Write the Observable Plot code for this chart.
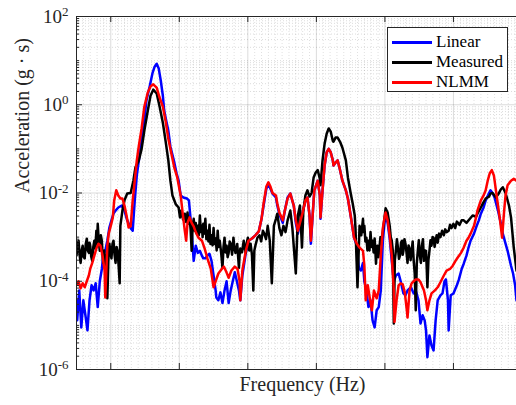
<!DOCTYPE html>
<html>
<head>
<meta charset="utf-8">
<script src="https://cdn.jsdelivr.net/npm/d3@7"></script>
<script src="https://cdn.jsdelivr.net/npm/@observablehq/plot@0.6"></script>
<style>
  html, body { margin: 0; padding: 0; background: #fff; }
  #wrap { position: relative; width: 516px; height: 405px; overflow: hidden; }
  #legend { position: absolute; left: 387px; top: 27px; width: 121px; height: 65px; box-sizing: border-box;
    border: 1px solid #262626; background: #fff; color: #000; }
  .row { position: absolute; left: 0; width: 100%; height: 20px; }
  .sw { position: absolute; left: 4px; width: 40px; height: 2.5px; top: 9px; }
  .lb { position: absolute; left: 48px; top: 0; line-height: 20px; white-space: nowrap; }
</style>
</head>
<body>
<div id="wrap"></div>
<script>
// ---- data (frequency in Hz, acceleration in g·s) ----
const seriesNames = ["Linear", "Measured", "NLMM"];
const seriesColors = ["#0000ff", "#000000", "#ff0000"];

const linear = [[50,3.7e-5],[51,1.3e-5],[54,6.2e-5],[57,9.0e-6],[60,3.7e-5],[63,1.7e-5],[66,7.7e-6],[69,3.7e-5],[72,8.1e-5],[75,6.2e-5],[78,9.0e-5],[81,2.6e-5],[84,1.0e-4],[87,1.9e-4],[89,3.8e-4],[92,4.9e-4],[95,8.3e-4],[98,1.65e-3],[101,2.4e-3],[104,3.4e-3],[107,4.0e-3],[111,4.7e-3],[116,5.2e-3],[120,4.0e-3],[124,2.4e-3],[129,1.6e-3],[132,1.4e-3],[135,6.8e-3],[138,2.5e-2],[141,5.5e-2],[143,9.2e-2],[148,0.33],[152,1.24],[157,2.7],[161,5.3],[164,7.3],[167,8.5],[170,6.6],[173,3.5],[176,1.6],[178,0.73],[181,0.43],[184,0.26],[187,0.112],[192,5.5e-2],[196,2.8e-2],[199,1.9e-2],[202,8.8e-3],[206,7.9e-3],[211,7.5e-3],[214,6.8e-3],[216,3.1e-3],[219,8.3e-4],[221,2.9e-4],[224,6.4e-4],[227,4.4e-4],[230,4.9e-4],[233,3.8e-4],[235,3.3e-4],[238,3.3e-4],[241,3.8e-4],[244,4.2e-4],[247,2.9e-4],[250,1.35e-4],[253,6.2e-5],[254,4.3e-5],[257,3.7e-5],[260,5.6e-5],[263,3.2e-5],[266,6.2e-5],[269,1.0e-4],[272,3.2e-5],[275,6.2e-5],[278,1.0e-4],[281,1.6e-4],[284,1.0e-4],[287,6.2e-5],[289,3.7e-5],[292,1.35e-4],[297,4.4e-4],[301,8.3e-4],[306,9.3e-4],[311,1.1e-3],[316,1.35e-3],[320,2.6e-3],[323,5.2e-3],[327,1.25e-2],[330,1.6e-2],[333,1.25e-2],[336,9.7e-3],[341,7.9e-3],[343,5.2e-3],[346,3.3e-3],[351,2.1e-3],[354,4.0e-3],[358,7.9e-3],[362,9.7e-3],[367,5.2e-3],[370,2.1e-3],[373,1.2e-3],[377,2.4e-3],[380,3.6e-3],[384,6.8e-3],[387,7.9e-3],[390,3.1e-3],[392,7.1e-4],[395,4.0e-3],[397,1.15e-2],[402,1.9e-2],[405,8.8e-3],[406,2.6e-3],[409,1.15e-2],[412,4.2e-2],[415,8.3e-2],[418,0.1],[421,8.3e-2],[424,5.5e-2],[425,4.2e-2],[428,4.9e-2],[431,5.5e-2],[434,3.6e-2],[438,1.9e-2],[443,1.15e-2],[446,7.5e-3],[450,3.1e-3],[455,9.7e-4],[459,6.4e-4],[462,2.0e-4],[465,1.75e-4],[468,2.6e-4],[470,1.0e-4],[473,6.2e-5],[476,2.6e-5],[479,3.7e-5],[482,1.3e-5],[485,9.0e-6],[488,2.2e-5],[491,2.6e-5],[494,6.2e-5],[497,8.3e-4],[500,2.6e-3],[501,3.4e-3],[504,2.1e-3],[507,9.3e-4],[510,2.9e-4],[513,1.0e-4],[516,1.35e-4],[520,1.5e-4],[523,1.0e-4],[527,5.3e-5],[530,4.8e-5],[533,6.2e-5],[538,7.3e-5],[542,5.3e-5],[545,6.2e-5],[549,3.7e-5],[552,1.1e-5],[555,1.7e-5],[558,1.3e-5],[560,7.7e-6],[562,1.9e-6],[565,5.9e-6],[568,3.5e-6],[571,2.7e-6],[574,1.3e-5],[577,3.7e-5],[581,4.8e-5],[584,5.3e-5],[587,1.0e-4],[589,1.1e-4],[592,3.7e-5],[593,7.7e-6],[596,4.8e-5],[600,5.3e-5],[605,8.1e-5],[608,1.1e-4],[612,1.9e-4],[615,2.5e-4],[619,3.8e-4],[622,5.8e-4],[625,8.3e-4],[630,1.2e-3],[633,1.65e-3],[637,2.4e-3],[640,3.4e-3],[644,4.7e-3],[647,6.8e-3],[652,1.0e-2],[654,1.15e-2],[657,1.0e-2],[660,7.9e-3],[665,4.0e-3],[669,2.1e-3],[672,1.2e-3],[676,7.1e-4],[679,4.9e-4],[684,2.25e-4],[687,1.5e-4],[690,8.1e-5],[692,3.7e-5]];

const measured = [[50,3.8e-4],[51.5,6e-4],[53,8.3e-4],[54.5,4e-4],[56,2.6e-4],[57.5,5e-4],[59,6.4e-4],[60.5,3.5e-4],[62,3.3e-4],[63.5,7e-4],[65,9.2e-4],[66.5,5e-4],[68,4.4e-4],[69,7.5e-4],[70,6.4e-4],[71.5,3.6e-4],[73,2.9e-4],[74.5,6e-4],[76,8.3e-4],[77.5,5.5e-4],[79,1.4e-3],[80,7e-4],[81,2.0e-3],[82.5,8e-4],[84,4.9e-4],[85.5,1.1e-3],[87,8.3e-4],[88,4e-4],[89,2.6e-4],[90.5,5e-4],[92,1.75e-4],[93.5,4e-4],[95,4.1e-5],[96.5,3e-4],[98,7.1e-4],[99.5,4.5e-4],[101,3.3e-4],[102.5,7e-4],[104,8.3e-4],[105.5,4e-4],[107,2.6e-4],[108.5,6e-4],[110,4.9e-4],[111.5,2.2e-4],[113,9.0e-5],[114,1.8e-3],[117,4.0e-3],[120,6.8e-3],[124,9.7e-3],[129,1.0e-2],[133,1.9e-2],[136,3.8e-2],[141,5.5e-2],[145,0.1],[149,0.26],[154,0.73],[158,1.6],[162,2.2],[167,1.8],[171,0.95],[176,0.39],[180,0.15],[184,5.5e-2],[187,1.9e-2],[190,8.8e-3],[195,5.5e-3],[199,4.7e-3],[201,2.8e-3],[203,4.0e-3],[205.5,2.5e-3],[208,3.4e-3],[210,2.2e-3],[212,3.6e-3],[213.5,2e-3],[215,2.8e-3],[216.5,1.5e-3],[218,4.9e-4],[219.5,1.8e-3],[221,2.6e-3],[222.5,1.4e-3],[224,2.1e-3],[225.5,1.2e-3],[227,1.8e-3],[228.5,1.1e-3],[230,3.1e-3],[231.5,1.3e-3],[233,1.8e-3],[234,1.0e-3],[235,2.0e-3],[236.5,1.2e-3],[238,2.6e-3],[239.5,9e-4],[241,1.4e-3],[242.5,8e-4],[244,1.9e-3],[245.5,7e-4],[247,1.1e-3],[248.5,6.5e-4],[250,1.6e-3],[251.5,7e-4],[253,9.3e-4],[254.5,5e-4],[256,1.4e-3],[257.5,6e-4],[259,8.3e-4],[261,4.5e-4],[263,2.0e-4],[264.5,6e-4],[266,9.7e-4],[267.5,4.5e-4],[269,6.4e-4],[270.5,3.5e-4],[272,4.4e-4],[273.5,8e-4],[275,7.1e-4],[277,4e-4],[279,9.7e-4],[280.5,5.5e-4],[282,4.4e-4],[284.5,7e-4],[287,2.0e-4],[288,4e-4],[289,5.5e-4],[291.5,4.5e-4],[294,8.3e-4],[295.5,5.5e-4],[297,4.4e-4],[298.5,7.5e-4],[300,9.7e-4],[302,5e-4],[304,7.1e-4],[306,4e-4],[308,6.2e-5],[309.5,5e-4],[311,6.4e-4],[314,9.7e-4],[317,1.1e-3],[319.5,8e-4],[322,1.4e-3],[324,1.2e-3],[326.5,9e-4],[329,1.8e-3],[332,8.3e-4],[335,9.0e-5],[338,1.8e-3],[341,2.6e-3],[343,3.4e-3],[346,1.6e-3],[349,1.1e-3],[352,1.8e-3],[355,1.3e-3],[358,2.4e-3],[362,4.0e-3],[365,1.6e-3],[370,1.5e-4],[373,3.1e-3],[376,5.2e-3],[379,5.8e-4],[381,4.0e-3],[384,8.8e-3],[387,1.15e-2],[390,8.3e-3],[393,1.0e-2],[396,2.25e-2],[399,2.9e-2],[402,3.3e-2],[405,2.1e-2],[406,1.5e-2],[409,5.5e-2],[412,0.13],[415,0.22],[418,0.29],[421,0.245],[424,0.15],[425,0.145],[428,0.18],[431,0.18],[435,0.14],[438,0.106],[443,5.5e-2],[446,2.25e-2],[450,1.0e-2],[453,5.8e-3],[456,3.1e-3],[457,1.65e-3],[460,7.3e-5],[463,1.8e-3],[465.5,1.1e-3],[468,2.6e-3],[469,1.3e-3],[470,1.8e-3],[471.5,8e-4],[473,9.7e-4],[474.5,5e-4],[476,8.3e-4],[477.5,5e-4],[479,1.3e-3],[480.5,6e-4],[482,8.3e-4],[483.5,4.5e-4],[485,9.3e-4],[486,5e-4],[487,2.5e-4],[488,5e-4],[489,6.4e-4],[490.5,3.5e-4],[492,5.8e-4],[493.5,1.0e-3],[495,8.3e-4],[496.5,1.2e-3],[498,1.8e-3],[501,4.5e-3],[504,3.6e-3],[507,1.8e-3],[508.5,1.0e-3],[510,8.3e-4],[511.5,5e-4],[513,1.1e-5],[514.5,3e-4],[516,4.9e-4],[517.5,9e-4],[519,5.8e-4],[520.5,3.2e-4],[522,3.8e-4],[523.5,7.5e-4],[525,8.3e-4],[526,4e-4],[527,4.9e-4],[528.5,9e-4],[530,7.1e-4],[531.5,4.5e-4],[533,2.6e-4],[534.5,6.5e-4],[536,5.5e-4],[537.5,3e-4],[539,4.9e-4],[540.5,8e-4],[542,2.9e-4],[543.5,1.5e-4],[545,2.2e-5],[546.5,2.5e-4],[548,4.9e-4],[549.5,8.5e-4],[551,3.8e-4],[552.5,2.6e-4],[554,6.4e-4],[555.5,9e-4],[557,2.9e-4],[558.5,5e-4],[560,4.9e-4],[561,2e-4],[562,7.3e-5],[563.5,3e-4],[565,4.9e-4],[566.5,8.5e-4],[568,6.4e-4],[569.5,1.0e-3],[571,9.7e-4],[572.5,6e-4],[574,8.3e-4],[575.5,1.1e-3],[577,7.5e-4],[579,1.2e-3],[581,1.0e-3],[583.5,1.4e-3],[586,1.1e-3],[588,1.5e-3],[590,1.3e-3],[593,1.4e-3],[595,1.9e-3],[597,1.6e-3],[600,2.0e-3],[602.5,1.6e-3],[605,2.25e-3],[609,1.9e-3],[612,2.4e-3],[615,2.4e-3],[619,2.1e-3],[624,2.6e-3],[628,3.1e-3],[633,2.9e-3],[635,3.4e-3],[640,4.7e-3],[643,5.8e-3],[647,7.5e-3],[652,8.3e-3],[654,9.7e-3],[657,1.0e-2],[662,7.9e-3],[666,9.7e-3],[669,1.2e-2],[672,1.35e-2],[676,1.0e-2],[681,5.2e-3],[684,2.8e-3],[688,5.8e-4],[692,1.75e-4]];

const nlmm = [[50,8.1e-5],[53,1.0e-4],[56,6.9e-5],[59,9.0e-5],[62,7.3e-5],[65,1.0e-4],[68,1.35e-4],[70,1.9e-4],[73,2.6e-4],[76,3.8e-4],[79,5.5e-4],[82,7.1e-4],[85,6.4e-4],[88,3.8e-4],[91,1.75e-4],[92,4.3e-5],[95,6.4e-4],[97,1.2e-3],[100,1.8e-3],[103,2.8e-3],[105,6.8e-3],[108,1.15e-2],[111,8.8e-3],[114,7.5e-3],[117,7.5e-3],[120,5.2e-3],[123,3.1e-3],[126,1.65e-3],[129,1.75e-3],[132,6.8e-3],[135,1.9e-2],[138,5.5e-2],[141,0.118],[145,0.29],[149,0.9],[154,1.9],[158,2.6],[162,2.9],[167,2.45],[171,1.5],[176,0.9],[180,0.43],[184,0.17],[189,7.1e-2],[193,3.6e-2],[197,2.25e-2],[202,8.8e-3],[205,3.4e-3],[208,1.4e-3],[210,8.3e-4],[212,2.1e-3],[215,2.8e-3],[218,2.1e-3],[221,1.75e-3],[224,1.3e-3],[228,9.7e-4],[233,8.3e-4],[237,5.5e-4],[241,3.3e-4],[246,1.9e-4],[250,7.3e-5],[253,1.0e-4],[257,1.5e-4],[262,1.9e-4],[265,2.15e-4],[269,1.57e-4],[272,1.2e-4],[276,1.75e-4],[281,2.15e-4],[285,1.9e-4],[288,1.0e-4],[289,3.7e-5],[292,1.75e-4],[297,4.9e-4],[301,8.3e-4],[306,9.3e-4],[311,1.1e-3],[316,1.35e-3],[320,2.6e-3],[323,5.8e-3],[327,1.4e-2],[330,1.75e-2],[333,1.4e-2],[336,1.0e-2],[341,8.8e-3],[343,5.8e-3],[346,3.6e-3],[351,2.4e-3],[354,4.0e-3],[358,7.5e-3],[362,9.7e-3],[367,5.2e-3],[370,2.4e-3],[373,1.4e-3],[377,2.4e-3],[380,3.6e-3],[384,6.8e-3],[387,7.9e-3],[390,3.1e-3],[392,8.3e-4],[395,4.0e-3],[397,1.15e-2],[402,1.9e-2],[405,8.8e-3],[406,2.8e-3],[409,1.15e-2],[412,4.2e-2],[415,8.3e-2],[418,0.1],[421,8.3e-2],[424,5.5e-2],[425,4.2e-2],[428,4.9e-2],[431,5.5e-2],[434,3.6e-2],[438,1.9e-2],[443,1.15e-2],[446,7.5e-3],[450,3.1e-3],[455,9.7e-4],[459,7.1e-4],[463,5.8e-4],[468,4.9e-4],[470,2.25e-4],[472,3.7e-5],[475,8.1e-5],[478,4.1e-5],[481,2.2e-5],[484,6.2e-5],[488,4.1e-5],[491,6.2e-5],[494,3.8e-4],[497,1.6e-3],[500,3.1e-3],[501,3.6e-3],[504,2.4e-3],[507,1.1e-3],[510,3.8e-4],[513,6.2e-5],[514,1.2e-5],[517,3.7e-5],[520,8.1e-5],[523,9.0e-5],[526,8.5e-5],[529,5.6e-5],[532,2.2e-5],[533,1.5e-5],[536,6.2e-5],[539,9.0e-5],[542,1.0e-4],[545,1.1e-4],[549,1.1e-4],[552,9.5e-5],[557,6.2e-5],[560,3.7e-5],[562,2.2e-5],[565,3.7e-5],[568,5.3e-5],[573,6.2e-5],[577,7.3e-5],[581,9.5e-5],[586,1.35e-4],[590,1.75e-4],[595,1.9e-4],[599,2.25e-4],[603,2.9e-4],[606,3.4e-4],[611,4.4e-4],[615,5.8e-4],[619,8.3e-4],[622,9.7e-4],[625,1.2e-3],[630,1.8e-3],[633,2.8e-3],[635,4.0e-3],[640,6.8e-3],[644,8.8e-3],[647,1.15e-2],[650,1.9e-2],[653,2.8e-2],[656,3.3e-2],[659,2.5e-2],[662,1.15e-2],[665,5.2e-3],[668,2.4e-3],[671,9.7e-4],[674,4.0e-3],[676,8.8e-3],[679,1.5e-2],[684,1.9e-2],[688,2.1e-2],[692,1.9e-2]];

// axis ticks
const xMajorTicks = [100, 200, 300, 400, 500, 600];
const yLabelTicks = [1e-6, 1e-4, 1e-2, 1e0, 1e2];

// ---- pick an installed serif face (Times-like first) ----
function hasFont(name) {
  const c = document.createElement("canvas").getContext("2d");
  const s = "Measured Frequency 0123456789 mmmWWWiii";
  let diff = false;
  for (const base of ["monospace", "sans-serif"]) {
    c.font = `40px ${base}`; const w0 = c.measureText(s).width;
    c.font = `40px "${name}", ${base}`; const w1 = c.measureText(s).width;
    if (Math.abs(w0 - w1) > 0.5) diff = true;
  }
  return diff;
}
const candidates = ["Liberation Serif", "Tinos", "Times New Roman", "Nimbus Roman", "FreeSerif", "DejaVu Serif", "Noto Serif"];
const chosen = candidates.find(hasFont) || "serif";
const wide = chosen === "DejaVu Serif" || chosen === "Noto Serif";
const k = wide ? 0.86 : 1;
const font = `"${chosen}", serif`;

// ---- build ----
const toRows = arr => arr.map(([f, a]) => ({f, a}));
const xMinor = d3.range(50, 692, 10).filter(v => v % 100 !== 0);
const yMinor = [];
for (let e = -6; e < 2; e++) for (let m = 1; m <= 9; m++) {
  const v = m * Math.pow(10, e);
  if (!yLabelTicks.some(t => Math.abs(t - v) / t < 1e-9)) yMinor.push(v);
}
const plotW = 516 - 76, plotH = 405 - 16 - 36;
const lineOpts = (c) => ({x: "f", y: "a", stroke: c, strokeWidth: 2.5, strokeLinejoin: "round", clip: true});

const chart = Plot.plot({
  width: 516, height: 405,
  marginLeft: 76, marginRight: 0, marginTop: 16, marginBottom: 36,
  x: {domain: [50, 692], axis: null},
  y: {type: "log", domain: [1e-6, 1e2], axis: null},
  style: {fontFamily: font, background: "#fff", color: "#262626"},
  marks: [
    Plot.ruleX(xMinor, {stroke: "#000", strokeOpacity: 0.12, strokeDasharray: "1,2"}),
    Plot.ruleY(yMinor, {stroke: "#000", strokeOpacity: 0.14, strokeDasharray: "1,2"}),
    Plot.ruleX(xMajorTicks, {stroke: "#000", strokeOpacity: 0.14}),
    Plot.ruleY(yLabelTicks, {stroke: "#000", strokeOpacity: 0.14}),
    Plot.line(toRows(linear), lineOpts(seriesColors[0])),
    Plot.line(toRows(measured), lineOpts(seriesColors[1])),
    Plot.line(toRows(nlmm), lineOpts(seriesColors[2])),
    // frame
    Plot.ruleX([50], {stroke: "#262626", strokeWidth: 1}),
    Plot.ruleY([1e2, 1e-6], {stroke: "#262626", strokeWidth: 1}),
    // inward ticks
    Plot.ruleX(xMajorTicks, {stroke: "#262626", insetTop: plotH - 6}),
    Plot.ruleX(xMajorTicks, {stroke: "#262626", insetBottom: plotH - 6}),
    Plot.ruleY(yLabelTicks, {stroke: "#262626", insetRight: plotW - 6}),
    Plot.ruleY(yMinor, {stroke: "#262626", insetRight: plotW - 3}),
    Plot.axisY({ticks: yLabelTicks, tickSize: 0, tickPadding: 8, label: null,
      tickFormat: d => "10^" + Math.round(Math.log10(d)), fontSize: 19 * k, fill: "#262626"}),
    Plot.text(["Acceleration (g \u00B7 s)"], {frameAnchor: "left", dx: -54, rotate: -90, fontSize: 20 * k, fill: "#262626"}),
    Plot.text(["Frequency (Hz)"], {frameAnchor: "bottom", dx: 6, dy: 21, fontSize: 20 * k, fill: "#262626"})
  ]
});

// superscript exponents on y tick labels
d3.select(chart).selectAll('g[aria-label="y-axis tick label"] text').each(function() {
  const t = this.textContent;
  if (!t.includes("^")) return;
  const [b, e] = t.split("^");
  const s = d3.select(this);
  s.text(b);
  s.append("tspan").attr("dy", "-0.5em").attr("font-size", 13 * k).text(e);
});
d3.select(chart).selectAll("text").style("font-family", font);

const wrap = document.getElementById("wrap");
wrap.appendChild(chart);

// legend
const leg = document.createElement("div");
leg.id = "legend";
leg.style.fontFamily = font;
leg.style.fontSize = (17 * k) + "px";
seriesNames.forEach((n, i) => {
  const row = document.createElement("div");
  row.className = "row";
  row.style.top = (4 + i * 20) + "px";
  row.innerHTML = `<div class="sw" style="background:${seriesColors[i]}"></div><div class="lb">${n}</div>`;
  leg.appendChild(row);
});
wrap.appendChild(leg);
</script>
</body>
</html>
